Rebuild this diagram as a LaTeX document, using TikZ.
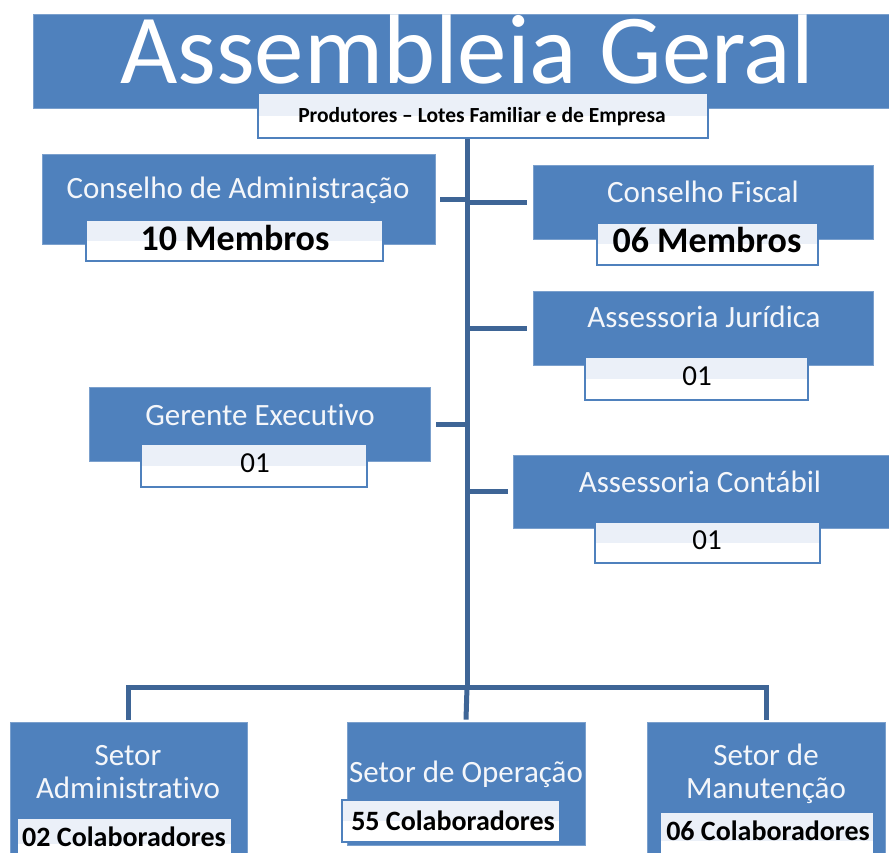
\documentclass[tikz,border=0pt]{standalone}
\usepackage{fontspec}
\setmainfont{Carlito}[Ligatures={TeX,NoCommon}]
\definecolor{boxblue}{HTML}{4F81BD}
\definecolor{edgeblue}{HTML}{7BA0CD}
\definecolor{linkblue}{RGB}{62,101,150}
\definecolor{band}{HTML}{EBF0F8}
\definecolor{labelwhite}{HTML}{F4F6FA}
\tikzset{
 bluebox/.style={draw=edgeblue, line width=0.8pt, fill=boxblue, inner sep=0pt},
 subbox/.style={draw=boxblue, line width=2.5pt, fill=white, inner sep=0pt,
   path picture={\fill[band] (path picture bounding box.north west) rectangle (path picture bounding box.east);}},
 head/.style={text=labelwhite, inner sep=0pt, anchor=base, font=\fontsize{31}{34}\selectfont},
 count/.style={text=black, inner sep=0pt, anchor=base, font=\fontsize{29}{33}\selectfont},
 bigcount/.style={text=black, inner sep=0pt, anchor=base, font=\bfseries\fontsize{36}{40}\selectfont},
 colab/.style={text=black, inner sep=0pt, anchor=base, font=\bfseries\fontsize{28}{32}\selectfont},
 conn/.style={draw=linkblue, line width=5pt},
}
\begin{document}
\begin{tikzpicture}[x=1pt,y=-1pt]
\useasboundingbox (0,0) rectangle (889,852);
\fill[white] (0,0) rectangle (889,852);
\clip (0,0) rectangle (889,852);

% top banner
\node[bluebox, minimum width=862pt, minimum height=94pt] (banner) at (464,61) {};
\node[text=white, inner sep=0pt, anchor=base, font=\fontsize{99}{100}\selectfont] (title) at (467,83) {Assembleia Geral};
\node[subbox, minimum width=450pt, minimum height=45pt] (prod) at (483,115.5) {};
\node[text=black, inner sep=0pt, anchor=base, font=\bfseries\fontsize{21.5}{23}\selectfont] (prodt) at (482,122) {Produtores – Lotes Familiar e de Empresa};

% Conselho de Administracao
\node[bluebox, minimum width=393pt, minimum height=90pt] (ca) at (238.5,199) {};
\node[head] (cat) at (238,198) {Conselho de Administração};
\node[subbox, minimum width=297pt, minimum height=41pt] (cas) at (234.5,240.5) {};
\node[bigcount] (cac) at (235,250) {10 Membros};

% Conselho Fiscal
\node[bluebox, minimum width=340pt, minimum height=74pt] (cf) at (703,202) {};
\node[head] (cft) at (703,202) {Conselho Fiscal};
\node[subbox, minimum width=221pt, minimum height=42pt] (cfs) at (707.5,244) {};
\node[bigcount] (cfc) at (707,252) {06 Membros};

% Assessoria Juridica
\node[bluebox, minimum width=340pt, minimum height=74pt] (aj) at (703,328) {};
\node[head] (ajt) at (704,327) {Assessoria Jurídica};
\node[subbox, minimum width=223pt, minimum height=43pt] (ajs) at (696.5,378.5) {};
\node[count] (ajc) at (697,385) {01};

% Gerente Executivo
\node[bluebox, minimum width=341pt, minimum height=74pt] (ge) at (259.5,424) {};
\node[head] (get) at (260,425) {Gerente Executivo};
\node[subbox, minimum width=226pt, minimum height=43pt] (ges) at (254,465.5) {};
\node[count] (gec) at (255,472) {01};

% Assessoria Contabil
\node[bluebox, minimum width=382pt, minimum height=73pt] (ac) at (704,491.5) {};
\node[head] (act) at (700,492) {Assessoria Contábil};
\node[subbox, minimum width=225pt, minimum height=41pt] (acs) at (707.5,542.5) {};
\node[count] (acc) at (707,549) {01};

% Setor Administrativo
\node[bluebox, minimum width=237pt, minimum height=148pt] (sa) at (128.5,796) {};
\node[head] (sat1) at (128,765) {Setor};
\node[head] (sat2) at (128,798) {Administrativo};
\node[subbox, minimum width=215pt, minimum height=52pt] (sas) at (124.5,844) {};
\node[colab] (sac) at (124,846) {02 Colaboradores};

% Setor de Operacao
\node[bluebox, minimum width=238pt, minimum height=123pt] (so) at (466,783.5) {};
\node[head] (sot) at (466,782) {Setor de Operação};
\node[subbox, minimum width=218pt, minimum height=42pt] (sos) at (451,821) {};
\node[colab] (soc) at (453,830) {55 Colaboradores};

% Setor de Manutencao
\node[bluebox, minimum width=238pt, minimum height=148pt] (sm) at (766,796) {};
\node[head] (smt1) at (766,765) {Setor de};
\node[head] (smt2) at (766,798) {Manutenção};
\node[subbox, minimum width=214pt, minimum height=58pt] (sms) at (767,841) {};
\node[colab] (smc) at (768,840) {06 Colaboradores};

% connectors
\coordinate (bus) at (467,687);
\draw[conn] (bus |- prod.south) -- (bus);
\draw[conn] ([xshift=5pt]ca.east) -- (ca.east -| bus);
\draw[conn] ([xshift=-6pt]cf.west) -- (cf.west -| bus);
\draw[conn] ([xshift=-6pt]aj.west) -- (aj.west -| bus);
\draw[conn] ([xshift=6pt]ge.east) -- (ge.east -| bus);
\draw[conn] ([xshift=-5pt]ac.west) -- (ac.west -| bus);
\draw[conn] ([yshift=2pt]sa.north) |- (bus) -| ([yshift=2pt]sm.north);
\draw[conn] (bus) -- ([yshift=2pt]so.north);
\end{tikzpicture}
\end{document}
